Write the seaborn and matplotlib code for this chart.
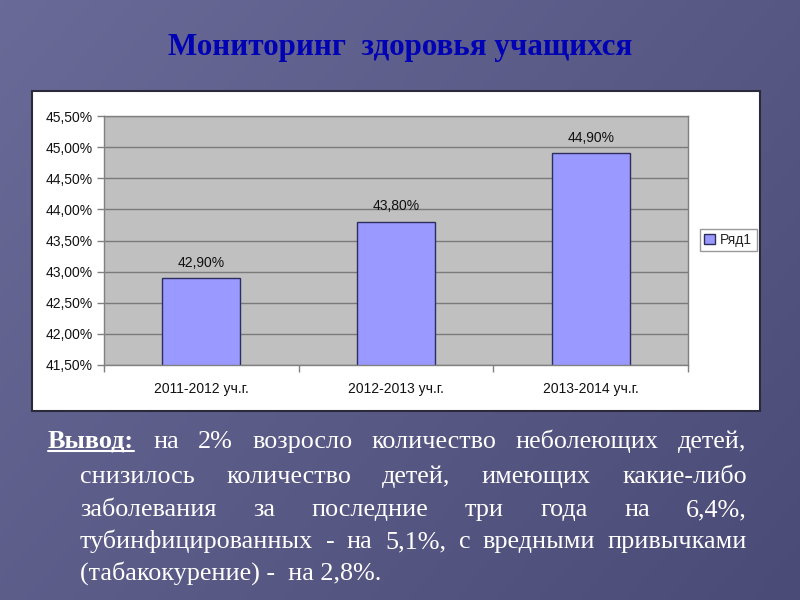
import matplotlib
matplotlib.use("Agg")
import numpy as np
import pandas as pd
import matplotlib.pyplot as plt
import seaborn as sns
from matplotlib.ticker import FuncFormatter, MultipleLocator, FixedLocator
from matplotlib.patches import Rectangle, Patch
from matplotlib.lines import Line2D
from matplotlib.colors import LinearSegmentedColormap

# data
years = ["2011-2012 уч.г.", "2012-2013 уч.г.", "2013-2014 уч.г."]
values = [42.9, 43.8, 44.9]
series_name = "Ряд1"
title = "Мониторинг  здоровья учащихся"
lead_word = "Вывод:"
text_lines = [
    "на 2% возросло количество неболеющих детей,",
    "снизилось количество детей, имеющих какие-либо",
    "заболевания за последние три года на 6,4%,",
    "тубинфицированных - на 5,1%, с вредными привычками",
    "(табакокурение) -  на 2,8%.",
]

sns.set_theme(style="white")
plt.rcParams["font.family"] = ["Liberation Sans", "DejaVu Sans"]

W, H = 800, 600
fig = plt.figure(figsize=(8, 6), dpi=100)


def fx(px):
    return px / W


def fy(py):
    return 1 - py / H


# slide background
bg = fig.add_axes([0, 0, 1, 1], zorder=-10)
gx, gy = np.meshgrid(np.linspace(0, 1, 200), np.linspace(0, 1, 150))
cmap = LinearSegmentedColormap.from_list("bg", ["#6a6a98", "#4b4b77"])
bg.imshow(gx * 0.6 + gy * 0.4, cmap=cmap, aspect="auto", extent=[0, 1, 0, 1], origin="upper")
bg.add_patch(Rectangle((fx(32), fy(411)), (760 - 32) / W, (411 - 91) / H,
                       facecolor="white", edgecolor="#2a2a3a", lw=1.5))
bg.set_xlim(0, 1)
bg.set_ylim(0, 1)
bg.set_axis_off()

# chart
ax = fig.add_axes([fx(104), fy(365), (688 - 104) / W, (365 - 116) / H])
df = pd.DataFrame({"year": years, "value": values, "series": series_name})
sns.barplot(data=df, x="year", y="value", hue="series", palette=["#9999ff"], saturation=1,
            width=0.4, edgecolor="#2e2e5e", linewidth=1, legend=False, ax=ax)
ax.set_facecolor("#c0c0c0")
ax.set_ylim(41.5, 45.5)
ax.set_xlim(-0.5, 2.5)
ax.yaxis.set_major_locator(MultipleLocator(0.5))
ax.yaxis.set_major_formatter(FuncFormatter(lambda v, p: f"{v:.2f}%".replace(".", ",")))
ax.grid(axis="y", color="#7a7a7a", lw=1)
ax.set_axisbelow(True)
ax.set_xlabel("")
ax.set_ylabel("")
for s in ax.spines.values():
    s.set_color("#808080")
    s.set_linewidth(1)
ax.tick_params(axis="y", left=True, length=5, width=1, color="#808080",
               labelsize=10, labelcolor="#111111", pad=3)
ax.tick_params(axis="x", bottom=False, labelsize=10, labelcolor="#111111", pad=6)
ax.xaxis.set_minor_locator(FixedLocator([-0.5, 0.5, 1.5, 2.5]))
ax.tick_params(axis="x", which="minor", bottom=True, length=5, width=1, color="#808080")

ax.bar_label(ax.containers[0], labels=[f"{v:.2f}%".replace(".", ",") for v in values],
             padding=6, fontsize=10, color="#111111")

fig.legend(handles=[Patch(facecolor="#9999ff", edgecolor="#2e2e5e", label=series_name)],
           loc="center", bbox_to_anchor=(fx(728), fy(240)), frameon=True, fancybox=False,
           edgecolor="#808080", fontsize=10, handlelength=0.8, handleheight=0.8,
           handletextpad=0.4, borderpad=0.3, borderaxespad=0)

# title
fig.text(0.5, fy(48), title, ha="center", va="center", fontsize=22.3, fontweight="bold",
         color="#0000b4", family=["Liberation Serif"])

# conclusion text, justified lines
renderer = fig.canvas.get_renderer()
serif = ["Liberation Serif", "DejaVu Serif"]
body_size = 18.8
baselines = [448, 483, 516, 548, 580]


def justify(words, x0, x1, y, first_bold=False):
    items = []
    for i, w in enumerate(words):
        t = fig.text(0, fy(y), w, ha="left", va="baseline", fontsize=body_size, color="white",
                     family=serif, fontweight="bold" if (first_bold and i == 0) else "normal")
        items.append(t)
    widths = [t.get_window_extent(renderer).width for t in items]
    gap = (x1 - x0 - sum(widths)) / (len(items) - 1)
    x = x0
    for t, w in zip(items, widths):
        t.set_x(fx(x))
        x += w + gap
    return items, widths


first, fw = justify([lead_word] + text_lines[0].split(), 48, 746, baselines[0], first_bold=True)
fig.add_artist(Line2D([fx(48), fx(48 + fw[0])], [fy(baselines[0] + 3)] * 2,
                      color="white", lw=1.5, transform=fig.transFigure))
for k in range(1, 4):
    justify(text_lines[k].split(), 80, 747, baselines[k])
fig.text(fx(80), fy(baselines[4]), text_lines[4], ha="left", va="baseline", fontsize=body_size,
         color="white", family=serif)

fig.savefig("out.png", dpi=100)
